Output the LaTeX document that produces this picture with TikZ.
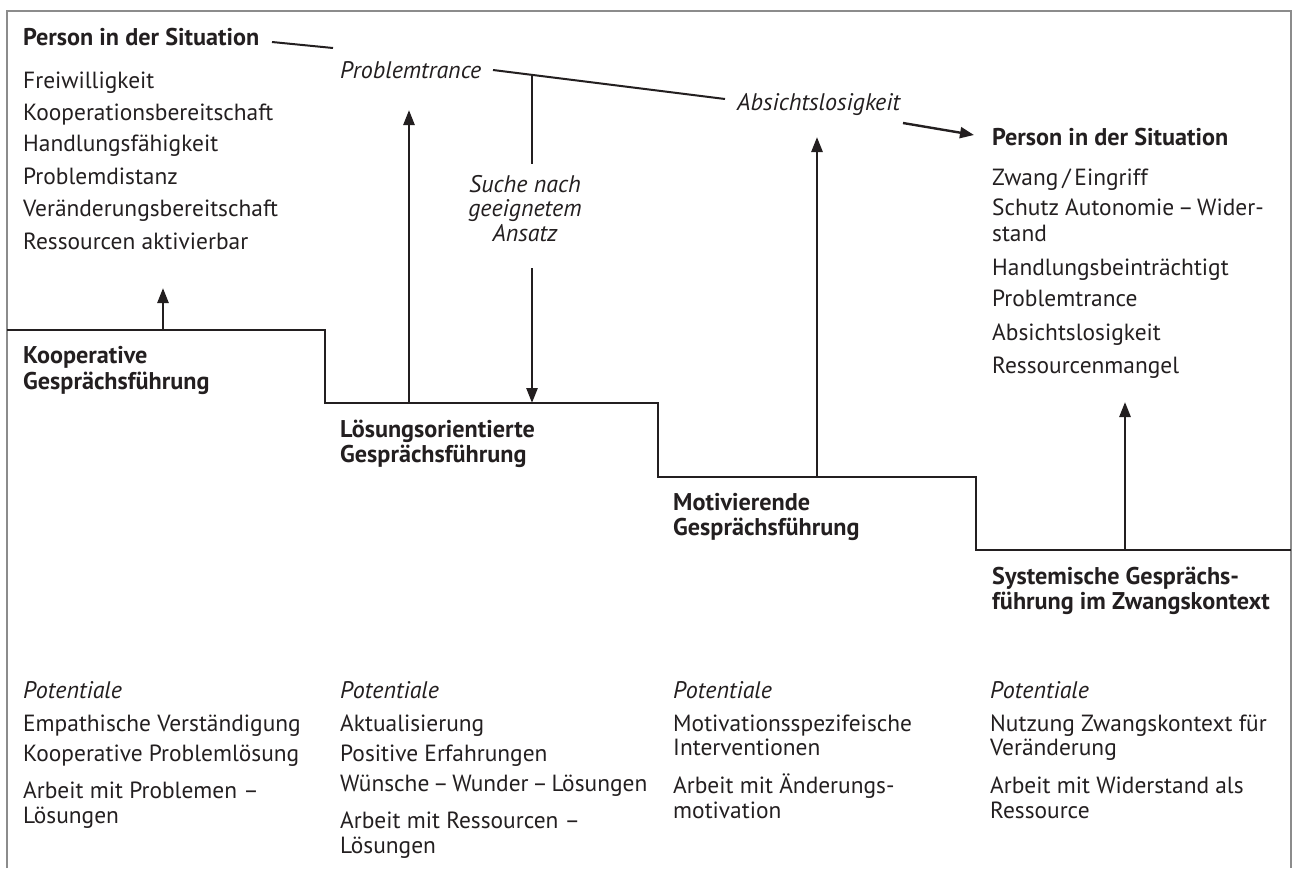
\documentclass[tikz,border=0pt]{standalone}
\usepackage{fontspec}
\setmainfont{PT Sans}
\usetikzlibrary{arrows.meta}
\definecolor{ink}{HTML}{231F20}
\definecolor{framegray}{HTML}{8C8C8C}
\newcommand{\tdash}{\hspace{0.16em}–\hspace{0.16em}}
\tikzset{
  txt/.style={anchor=base west, inner sep=0pt, text=ink, font=\fontsize{23.4}{25}\selectfont},
  bld/.style={txt, font=\fontsize{24.2}{25}\selectfont\bfseries},
  itl/.style={txt, font=\fontsize{24}{25}\selectfont\itshape},
  stair/.style={line width=2.6pt, draw=ink, line join=miter},
  arr/.style={line width=2.6pt, draw=ink, -{Triangle[length=15pt,width=11pt]}},
  conn/.style={line width=2pt, draw=ink},
  pointer/.style={line width=2.4pt, draw=ink, -{Triangle[length=14pt,width=11pt]}},
  framestyle/.style={line width=2pt, draw=framegray}
}
\begin{document}
\begin{tikzpicture}[x=1pt,y=-1pt]
\useasboundingbox (0,0) rectangle (1293,868);
% frame
\draw[framestyle] (7,868) -- (7,11) -- (1291,11) -- (1291,868);
% staircase
\coordinate (s0) at (7,330);
\coordinate (s1) at (325,330);
\coordinate (s2) at (325,403);
\coordinate (s3) at (658,403);
\coordinate (s4) at (658,477);
\coordinate (s5) at (976,477);
\coordinate (s6) at (976,550);
\coordinate (s7) at (1291,550);
\draw[stair] (s0) -- (s1) -- (s2) -- (s3) -- (s4) -- (s5) -- (s6) -- (s7);

% top-left list
\node[bld] (p1) at (23,45) {Person in der Situation};
\node[txt] (p1a) at (23,88) {Freiwilligkeit};
\node[txt] (p1b) at (23,120) {Kooperationsbereitschaft};
\node[txt] (p1c) at (23,151) {Handlungsfähigkeit};
\node[txt] (p1d) at (23,184) {Problemdistanz};
\node[txt] (p1e) at (23,216) {Veränderungsbereitschaft};
\node[txt] (p1f) at (23,249) {Ressourcen aktivierbar};

% italic states
\node[itl] (pt) at (340,78) {Problemtrance};
\node[itl] (ab) at (737,110) {Absichtslosigkeit};
\node[itl, anchor=base] (su1) at (525,192) {Suche nach};
\node[itl, anchor=base] (su2) at (525,216) {geeignetem};
\node[itl, anchor=base] (su3) at (525,241) {Ansatz};

% right list
\node[bld] (p2) at (992,145) {Person in der Situation};
\node[txt] (p2a) at (992,185) {Zwang\,/\,Eingriff};
\node[txt] (p2b) at (992,215) {Schutz Autonomie\tdash Wider-};
\node[txt] (p2c) at (992,241) {stand};
\node[txt] (p2d) at (992,275) {Handlungsbeinträchtigt};
\node[txt] (p2e) at (992,306) {Problemtrance};
\node[txt] (p2f) at (992,340) {Absichtslosigkeit};
\node[txt] (p2g) at (992,373) {Ressourcenmangel};

% connectors between states
\coordinate (c1a) at (272,42);
\coordinate (c1b) at (333,48);
\draw[conn] (c1a) -- (c1b);
\coordinate (c2a) at (493,70);
\coordinate (c2b) at (725,99);
\draw[conn] (c2a) -- (c2b);
\coordinate (c3a) at (903,123);
\coordinate (c3b) at (974,135);
\draw[pointer] (c3a) -- (c3b);

% vertical arrows
\coordinate (a1s) at (163,330);
\coordinate (a1e) at (163,288);
\draw[arr] (a1s) -- (a1e);
\coordinate (a2s) at (409,403);
\coordinate (a2e) at (409,110);
\draw[arr] (a2s) -- (a2e);
\coordinate (j) at (532,74);
\coordinate (jm1) at (532,164);
\coordinate (jm2) at (532,268);
\coordinate (je) at (532,403);
\draw[conn, line width=2.6pt] (j) -- (jm1);
\draw[arr] (jm2) -- (je);
\coordinate (a4s) at (817,477);
\coordinate (a4e) at (817,137);
\draw[arr] (a4s) -- (a4e);
\coordinate (a5s) at (1125,550);
\coordinate (a5e) at (1125,402);
\draw[arr] (a5s) -- (a5e);

% step labels
\node[bld] (k1) at (23,363) {Kooperative};
\node[bld] (k2) at (23,389) {Gesprächsführung};
\node[bld] (l1) at (340,437) {Lösungsorientierte};
\node[bld] (l2) at (340,462) {Gesprächsführung};
\node[bld] (m1) at (673,510) {Motivierende};
\node[bld] (m2) at (673,535) {Gesprächsführung};
\node[bld] (y1) at (992,584) {Systemische Gesprächs-};
\node[bld] (y2) at (992,609) {führung im Zwangskontext};

% bottom columns
\node[itl] (q1) at (23,698) {Potentiale};
\node[txt] (q1a) at (23,731) {Empathische Verständigung};
\node[txt] (q1b) at (23,761) {Kooperative Problemlösung};
\node[txt] (q1c) at (23,798) {Arbeit mit Problemen –};
\node[txt] (q1d) at (23,823) {Lösungen};

\node[itl] (q2) at (340,698) {Potentiale};
\node[txt] (q2a) at (340,731) {Aktualisierung};
\node[txt] (q2b) at (340,761) {Positive Erfahrungen};
\node[txt] (q2c) at (340,791) {Wünsche\tdash Wunder\tdash Lösungen};
\node[txt] (q2d) at (340,828) {Arbeit mit Ressourcen –};
\node[txt] (q2e) at (340,853) {Lösungen};

\node[itl] (q3) at (673,698) {Potentiale};
\node[txt] (q3a) at (673,731) {Motivationsspezifeische};
\node[txt] (q3b) at (673,755) {Interventionen};
\node[txt] (q3c) at (673,793) {Arbeit mit Änderungs-};
\node[txt] (q3d) at (673,818) {motivation};

\node[itl] (q4) at (990,698) {Potentiale};
\node[txt] (q4a) at (990,731) {Nutzung Zwangskontext für};
\node[txt] (q4b) at (990,755) {Veränderung};
\node[txt] (q4c) at (990,793) {Arbeit mit Widerstand als};
\node[txt] (q4d) at (990,818) {Ressource};
\end{tikzpicture}
\end{document}
